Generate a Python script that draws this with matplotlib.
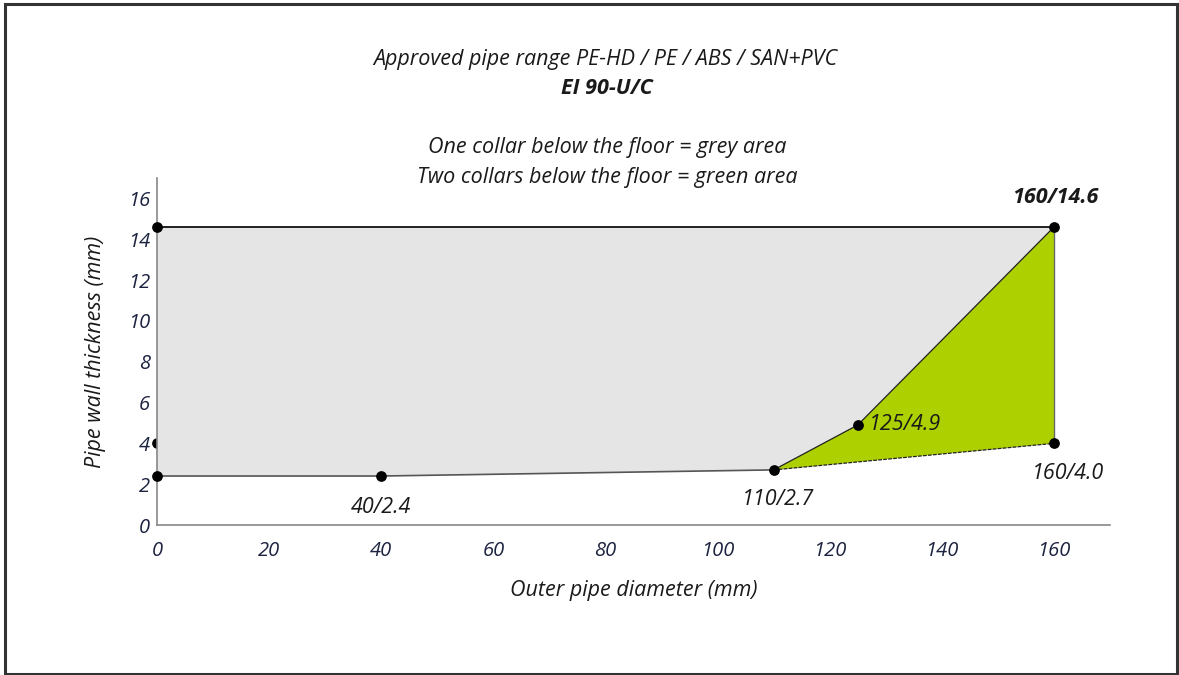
import matplotlib
matplotlib.use("Agg")
import matplotlib.pyplot as plt
from matplotlib.patches import Polygon, Rectangle

# Data
grey_x = [0, 40, 110, 125, 160, 0]
grey_y = [2.4, 2.4, 2.7, 4.9, 14.6, 14.6]
green_x = [110, 125, 160, 160]
green_y = [2.7, 4.9, 14.6, 4.0]
pt_x = [0, 160, 160, 125, 110, 40, 0]
pt_y = [14.6, 14.6, 4.0, 4.9, 2.7, 2.4, 2.4]
lbl_text = ["160/14.6", "125/4.9", "110/2.7", "40/2.4", "160/4.0"]
lbl_x = [160, 125, 110, 40, 160]
lbl_y = [14.6, 4.9, 2.7, 2.4, 4.0]
xticks = [0, 20, 40, 60, 80, 100, 120, 140, 160]
yticks = [0, 2, 4, 6, 8, 10, 12, 14, 16]

FONT = ["Open Sans", "DejaVu Sans"]
TXT = "#1a1a1a"
TICKC = "#1c2340"
FS = 15.5

fig = plt.figure(figsize=(11.79, 6.75), dpi=100)
ax = fig.add_axes([0.1332, 0.2222, 0.9415 - 0.1332, 0.7363 - 0.2222])

ax.add_patch(Polygon(list(zip(grey_x, grey_y)), closed=True, facecolor="#e5e5e5",
                     edgecolor="none", zorder=2))
ax.add_patch(Polygon(list(zip(green_x, green_y)), closed=True, facecolor="#add000",
                     edgecolor="none", zorder=2))
# outline lines
ax.plot([0, 160], [14.6, 14.6], color="#111111", lw=1.3, zorder=3)
ax.plot([0, 40, 110], [2.4, 2.4, 2.7], color="#555555", lw=1.2, zorder=3)
ax.plot([110, 125, 160], [2.7, 4.9, 14.6], color="#222222", lw=0.9, zorder=3)
ax.plot([160, 160], [14.6, 4.0], color="#666666", lw=1.0, zorder=3)
ax.plot([110, 160], [2.7, 4.0], color="#222222", lw=0.9, ls=(0, (3, 1)), zorder=3)

ax.scatter(pt_x, pt_y, s=45, color="black", zorder=4, clip_on=False)
ax.scatter([0], [4.0], s=45, color="black", zorder=1, clip_on=False)

offsets = [(1, 14), (8, 0), (3, -14), (0, -15), (10, -14)]
has = ["center", "left", "center", "center", "center"]
vas = ["bottom", "center", "top", "top", "top"]
weights = ["bold", "normal", "normal", "normal", "normal"]
for t, x, y, off, ha, va, w in zip(lbl_text, lbl_x, lbl_y, offsets, has, vas, weights):
    ax.annotate(t, (x, y), xytext=off, textcoords="offset points", ha=ha, va=va,
                fontsize=FS, style="italic", weight=w, family=FONT, color=TXT, zorder=5)

ax.set_xlim(0, 170)
ax.set_ylim(0, 17)
ax.set_xticks(xticks)
ax.set_yticks(yticks)
for lab in ax.get_xticklabels() + ax.get_yticklabels():
    lab.set_fontsize(14.5)
    lab.set_style("italic")
    lab.set_family(FONT)
    lab.set_color(TICKC)
ax.tick_params(length=0)
ax.tick_params(axis="y", pad=5)
ax.tick_params(axis="x", pad=11.5)
for s in ["top", "right"]:
    ax.spines[s].set_visible(False)
for s in ["left", "bottom"]:
    ax.spines[s].set_color("#888888")
    ax.spines[s].set_linewidth(1.2)

ax.set_xlabel("Outer pipe diameter (mm)", fontsize=FS, style="italic", family=FONT,
              color=TXT, labelpad=14)
ax.set_ylabel("Pipe wall thickness (mm)", fontsize=FS, style="italic", family=FONT,
              color=TXT, labelpad=16)

fig.text(605 / 1179, 1 - 60 / 675, "Approved pipe range PE-HD / PE / ABS / SAN+PVC",
         ha="center", va="center", fontsize=FS, style="italic", family=FONT, color=TXT)
fig.text(607 / 1179, 1 - 88 / 675, "EI 90-U/C", ha="center", va="center", fontsize=FS,
         style="italic", weight="bold", family=FONT, color=TXT)
fig.text(607 / 1179, 1 - 147 / 675, "One collar below the floor = grey area",
         ha="center", va="center", fontsize=FS, style="italic", family=FONT, color=TXT)
fig.text(607 / 1179, 1 - 177 / 675, "Two collars below the floor = green area",
         ha="center", va="center", fontsize=FS, style="italic", family=FONT, color=TXT)

fig.patches.append(Rectangle((4.5 / 1179, 1 / 675), (1177 - 4.5) / 1179, (670) / 675,
                             transform=fig.transFigure, fill=False, edgecolor="#333333",
                             lw=2.2))

fig.savefig("out.png", dpi=100)
